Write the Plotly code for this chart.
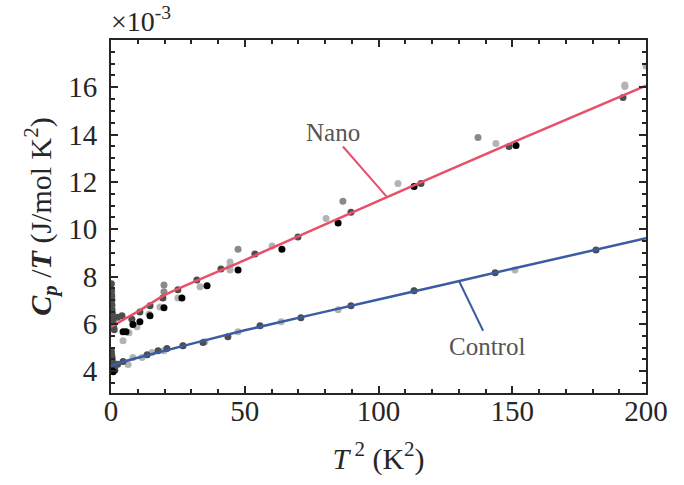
import numpy as np
import plotly.graph_objects as go

# ---------------- data (Cp/T in units of 1e-3 J/mol K^2, x = T^2 in K^2) ----------------
# Nano sample, four measurement runs
nano_run1_x = [4.5, 5.6, 8.2, 10.8, 14.6, 19.8, 26.5, 35.9, 47.5, 63.9, 84.9, 113.3, 151.4]
nano_run1_y = [5.67, 5.67, 5.97, 6.09, 6.35, 6.68, 7.10, 7.61, 8.28, 9.16, 10.26, 11.81, 13.54]

nano_run2_x = [0.15, 0.2, 0.25, 0.3, 0.35, 0.4, 0.5, 0.6, 0.7, 0.8, 1.0, 1.2, 2.5, 4.1, 7.8, 10.8,
               14.6, 19.4, 25.0, 32.1, 41.1, 53.8, 69.9, 89.7, 115.9, 148.8, 191.4]
nano_run2_y = [7.70, 7.45, 7.20, 7.00, 6.80, 6.60, 6.45, 6.30, 6.15, 6.00, 5.85, 5.75, 6.28, 6.34, 6.20,
               6.50, 6.77, 7.10, 7.44, 7.86, 8.32, 8.95, 9.67, 10.72, 11.94, 13.50, 15.57]

nano_run3_x = [0.3, 19.8, 19.8, 47.5, 86.7, 137.2]
nano_run3_y = [7.35, 7.65, 7.36, 9.16, 11.18, 13.88]

nano_run4_x = [0.4, 0.9, 4.5, 6.7, 9.7, 14.2, 18.3, 25.0, 33.3, 44.5, 44.5, 44.5, 60.2, 80.4,
               107.3, 143.9, 192.1, 192.1, 200.0]
nano_run4_y = [7.10, 6.10, 5.29, 5.63, 5.88, 6.42, 6.72, 7.10, 7.57, 8.28, 8.45, 8.62, 9.29, 10.46,
               11.94, 13.63, 16.03, 16.10, 16.90]

# Control sample
control_run1_x = [0.4, 0.8]
control_run1_y = [4.02, 3.98]

control_run2_x = [0.15, 0.2, 0.3, 0.4, 0.5, 0.6, 0.7, 0.9, 1.1, 1.4, 2.5, 4.5, 13.5, 17.6, 20.9, 26.9,
                  34.4, 43.7, 55.7, 71.0, 89.7, 113.3, 143.6, 181.3]
control_run2_y = [4.85, 4.72, 4.60, 4.50, 4.40, 4.30, 4.20, 4.12, 4.06, 4.04, 4.30, 4.41, 4.70, 4.87,
                  4.96, 5.08, 5.21, 5.46, 5.92, 6.26, 6.77, 7.40, 8.16, 9.12]

control_run4_x = [0.5, 0.8, 1.5, 6.4, 8.2, 11.6, 15.3, 19.8, 26.9, 35.1, 47.5, 63.6, 84.9, 113.3, 151.0]
control_run4_y = [4.60, 4.30, 4.15, 4.28, 4.58, 4.58, 4.79, 4.87, 5.08, 5.25, 5.67, 6.09, 6.60, 7.40, 8.28]

# Fit curves
nano_fit_x = [0, 5, 10, 20, 50, 100, 150, 200]
nano_fit_y = [5.87, 6.20, 6.52, 7.22, 8.70, 11.20, 13.66, 16.07]
control_fit_x = [0, 3, 15, 50, 100, 150, 200]
control_fit_y = [4.20, 4.35, 4.72, 5.73, 7.03, 8.33, 9.62]

x_ticks = [0, 50, 100, 150, 200]
y_ticks = [4, 6, 8, 10, 12, 14, 16]

# ---------------- styling ----------------
FONT = "Liberation Serif, Times New Roman, DejaVu Serif, serif"
run_colors = {"run4": "#b3b3b3", "run3": "#8a8a8a", "run2": "#4d4d4d", "run1": "#000000"}
RED = "#e8506a"
BLUE = "#3a5ca3"
INK = "#262626"

fig = go.Figure()

def add_pts(x, y, color):
    fig.add_trace(go.Scatter(x=x, y=y, mode="markers", showlegend=False, hoverinfo="skip",
                             marker=dict(size=7, color=color, line=dict(width=0))))

add_pts(control_run4_x, control_run4_y, run_colors["run4"])
add_pts(nano_run4_x, nano_run4_y, run_colors["run4"])
add_pts(nano_run3_x, nano_run3_y, run_colors["run3"])
add_pts(control_run2_x, control_run2_y, run_colors["run2"])
add_pts(nano_run2_x, nano_run2_y, run_colors["run2"])
add_pts(control_run1_x, control_run1_y, run_colors["run1"])
add_pts(nano_run1_x, nano_run1_y, run_colors["run1"])

fig.add_trace(go.Scatter(x=nano_fit_x, y=nano_fit_y, mode="lines", showlegend=False,
                         line=dict(color=RED, width=2.5, shape="spline", smoothing=0.6)))
fig.add_trace(go.Scatter(x=control_fit_x, y=control_fit_y, mode="lines", showlegend=False,
                         line=dict(color=BLUE, width=2.5, shape="spline", smoothing=0.6)))

# callouts anchored on the fit curves
nx = 103.2
ny = float(np.interp(nx, nano_fit_x, nano_fit_y))
fig.add_shape(type="line", x0=86.7, y0=13.5, x1=nx, y1=ny, line=dict(color=RED, width=2))
fig.add_annotation(x=83.0, y=14.09, text="Nano", showarrow=False,
                   font=dict(family=FONT, size=25, color="#555555"))
cx = 130.1
cy = float(np.interp(cx, control_fit_x, control_fit_y))
fig.add_shape(type="line", x0=cx, y0=cy, x1=139.1, y1=5.71, line=dict(color=BLUE, width=2))
fig.add_annotation(x=140.6, y=5.04, text="Control", showarrow=False,
                   font=dict(family=FONT, size=25, color="#555555"))

fig.add_annotation(xref="paper", yref="paper", x=0, y=1, xanchor="left", yanchor="bottom",
                   xshift=-2, yshift=1,
                   text="×10<sup>-3</sup>", showarrow=False,
                   font=dict(family=FONT, size=28, color=INK))

axis_common = dict(showline=True, linewidth=2, linecolor=INK, mirror="ticks",
                   ticks="inside", ticklen=7, tickwidth=1.5, tickcolor=INK,
                   showgrid=False, zeroline=False,
                   tickfont=dict(family=FONT, size=29, color=INK))

fig.update_xaxes(range=[0, 200], tickvals=x_ticks, ticktext=[str(v) for v in x_ticks],
                 minor=dict(ticks="inside", ticklen=4, dtick=10, tickwidth=1.5, tickcolor=INK),
                 title=dict(text="<i>T</i><sup> 2</sup> (K<sup>2</sup>)",
                            font=dict(family=FONT, size=30, color=INK), standoff=22),
                 ticklabelstandoff=-9,
                 **axis_common)
fig.update_yaxes(range=[3.08, 18], tickvals=y_ticks, ticktext=[str(v) for v in y_ticks],
                 minor=dict(ticks="inside", ticklen=4, dtick=0.5, tickwidth=1.5, tickcolor=INK),
                 title=dict(text="<b><i>C<sub>p</sub></i></b> /<b><i>T</i></b> (J/mol K<sup>2</sup>)",
                            font=dict(family=FONT, size=30, color=INK), standoff=8),
                 ticklabelstandoff=6,
                 **axis_common)

fig.update_layout(width=684, height=485, margin=dict(l=111, r=38, t=40, b=92),
                  paper_bgcolor="white", plot_bgcolor="white")

fig.write_html("out.html")
